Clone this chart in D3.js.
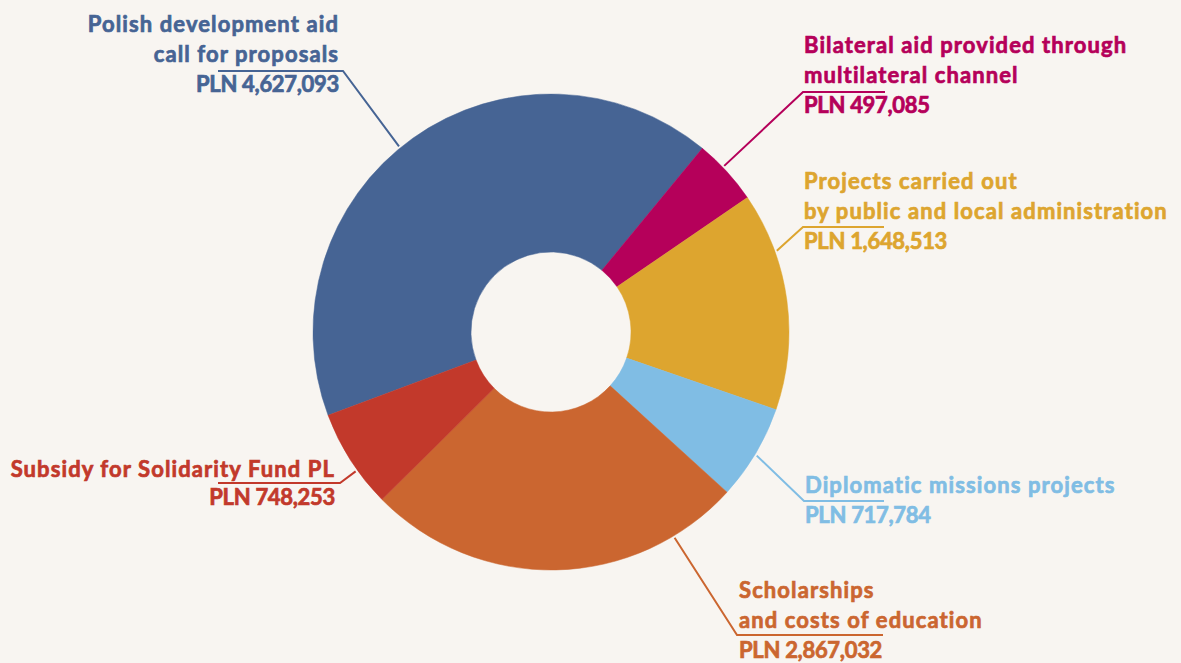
<!DOCTYPE html>
<html>
<head>
<meta charset="utf-8">
<script src="https://cdn.jsdelivr.net/npm/d3@7"></script>
<style>
  html, body { margin: 0; padding: 0; background: #f8f5f1; }
  svg { display: block; }
  .lbl { font-family: "Lato", "Roboto", sans-serif; font-weight: 700; font-size: 22px;
         letter-spacing: 1.1px; font-variant-ligatures: none; stroke-width: 0.7px; }
  .lbl .amount { letter-spacing: -0.3px; }
</style>
</head>
<body>
<svg id="chart" width="1181" height="663"></svg>
<script>
// data
var categories = [
    ["Polish development aid", "call for proposals"],
    ["Bilateral aid provided through", "multilateral channel"],
    ["Projects carried out", "by public and local administration"],
    ["Diplomatic missions projects"],
    ["Scholarships", "and costs of education"],
    ["Subsidy for Solidarity Fund PL"]
];
var values = [4627093, 497085, 1648513, 717784, 2867032, 748253];
var colors = ["#466494", "#b5005a", "#dda52f", "#80bde4", "#cb6630", "#c2392b"];

// label placement (layout only)
var layout = [
    {attach: 320.7, elbow: [343, 71], end: [218, 71], tx: 339, ty: 32, anchor: "end"},
    {attach: 46.2, elbow: [803, 92], end: [885, 92], tx: 804, ty: 53, anchor: "start"},
    {attach: 70.2, elbow: [803, 227], end: [884, 227], tx: 804, ty: 189, anchor: "start"},
    {attach: 121, elbow: [804, 501], end: [884, 501], tx: 805, ty: 493, anchor: "start"},
    {attach: 149, elbow: [737, 635], end: [883, 635], tx: 739, ty: 598, anchor: "start"},
    {attach: 234.5, elbow: [340, 483], end: [218, 483], tx: 335, ty: 477, anchor: "end"}
];

var cx = 551, cy = 332, outerR = 238, innerR = 80, lineH = 30;
var fmt = d3.format(",");
var rad = Math.PI / 180;

var svg = d3.select("#chart");
svg.append("rect").attr("width", 1181).attr("height", 663).attr("fill", "#f8f5f1");

var start = -110.5 * rad;
var pie = d3.pie().sort(null).value(function (d) { return d; })
    .startAngle(start).endAngle(start + 2 * Math.PI);
var arc = d3.arc().innerRadius(innerR).outerRadius(outerR);

var g = svg.append("g").attr("transform", "translate(" + cx + "," + cy + ")");
g.selectAll("path")
    .data(pie(values))
    .enter().append("path")
    .attr("d", arc)
    .attr("fill", function (d, i) { return colors[i]; })
    .attr("stroke", function (d, i) { return colors[i]; })
    .attr("stroke-width", 0.5);

// leader lines
var lines = svg.append("g");
layout.forEach(function (l, i) {
    var a = l.attach * rad;
    var p = [cx + Math.sin(a) * (outerR + 2), cy - Math.cos(a) * (outerR + 2)];
    lines.append("polyline")
        .attr("points", [p, l.elbow, l.end].map(function (q) { return q.join(","); }).join(" "))
        .attr("fill", "none")
        .attr("stroke", colors[i])
        .attr("stroke-width", 2);
});

// labels
var labels = svg.append("g");
categories.forEach(function (rows, i) {
    var l = layout[i];
    var t = labels.append("text")
        .attr("class", "lbl")
        .attr("fill", colors[i])
        .attr("stroke", colors[i])
        .attr("text-anchor", l.anchor);
    var all = rows.concat(["PLN " + fmt(values[i])]);
    all.forEach(function (r, j) {
        t.append("tspan")
            .classed("amount", j == all.length - 1)
            .attr("x", l.tx)
            .attr("y", l.ty + j * lineH - (i == 5 && j == 1 ? 2 : 0))
            .text(r);
    });
});
</script>
</body>
</html>
